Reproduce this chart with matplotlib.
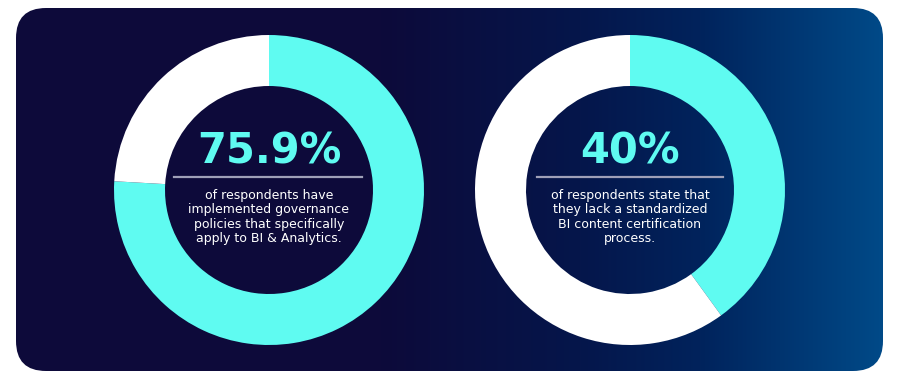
import numpy as np
import matplotlib.pyplot as plt
from matplotlib.patches import FancyBboxPatch

# survey results
left_values = [75.9, 24.1]
right_values = [40, 60]
left_label = "75.9%"
right_label = "40%"
left_text = "of respondents have\nimplemented governance\npolicies that specifically\napply to BI & Analytics."
right_text = "of respondents state that\nthey lack a standardized\nBI content certification\nprocess."

cyan = "#5ffbf1"
white = "#ffffff"

W, H = 900, 381
fig = plt.figure(figsize=(9, 3.81), dpi=100)
ax = fig.add_axes([0, 0, 1, 1])
ax.set_xlim(0, W)
ax.set_ylim(0, H)
ax.axis("off")

# background card with horizontal gradient
card = FancyBboxPatch((16, 10), 867, 363, boxstyle="round,pad=0,rounding_size=30",
                      facecolor="none", edgecolor="none")
ax.add_patch(card)
xs = np.arange(W)
stops_x = [0, 380, 580, 700, 883, 900]
stops_c = np.array([(13, 10, 58), (13, 10, 58), (5, 22, 75), (1, 35, 92),
                    (0, 74, 136), (0, 74, 136)]) / 255.0
grad = np.stack([np.interp(xs, stops_x, stops_c[:, i]) for i in range(3)], axis=-1)
img = np.repeat(grad[np.newaxis, :, :], 2, axis=0)
im = ax.imshow(img, extent=[0, W, 0, H], aspect="auto", zorder=0)
im.set_clip_path(card)

# donuts
for vals, cx in [(left_values, 269), (right_values, 630)]:
    ax.pie(vals, colors=[cyan, white], startangle=90, counterclock=False,
           center=(cx, 191), radius=155, frame=True,
           wedgeprops=dict(width=51, edgecolor="none", linewidth=0))

ax.set_xlim(0, W)
ax.set_ylim(0, H)
ax.axis("off")

# centre texts
for cx, big, small, x0, x1 in [(269, left_label, left_text, 174, 362),
                               (630, right_label, right_text, 537, 723)]:
    ax.text(cx, 218, big, color=cyan, fontsize=30, fontweight="bold",
            ha="center", va="baseline", zorder=5)
    ax.plot([x0, x1], [204, 204], color="#9fa0b8", linewidth=1.6, zorder=5)
    ax.text(cx, 164, small, color="white", fontsize=9, ha="center", va="center",
            linespacing=1.12, zorder=5)

fig.savefig("out.png", dpi=100)
